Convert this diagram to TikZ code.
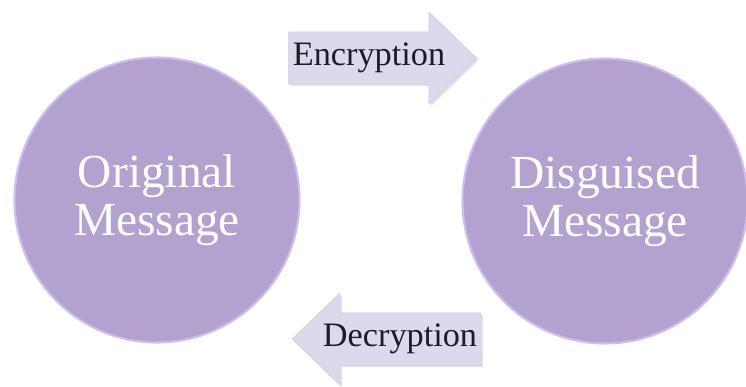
\documentclass[tikz,border=0pt]{standalone}
\usepackage{fontspec}
\setmainfont{Liberation Serif}
\usetikzlibrary{shapes.arrows, shadows}
\definecolor{lilac}{HTML}{B3A2D0}
\definecolor{lilacrim}{HTML}{CDBFEA}
\definecolor{paleLilac}{HTML}{DDD8EC}
\definecolor{inkdark}{HTML}{1E1A2A}

\tikzset{
  msgcircle/.style={circle, fill=lilac, draw=lilacrim, line width=1.2pt,
    minimum size=5.7cm, inner sep=0pt, align=center, text=white,
    font=\fontsize{27}{27.5}\selectfont},
  steparrow/.style={single arrow, fill=paleLilac, draw=paleLilac!85!gray,
    line width=0.3pt, single arrow head extend=0.4cm,
    single arrow tip angle=88, minimum height=3.76cm,
    text height=13pt, text depth=5pt, inner ysep=0.2cm, inner xsep=2pt,
    text=inkdark, font=\fontsize{19.5}{22}\selectfont,
    drop shadow={shadow xshift=1.2pt, shadow yshift=-1.2pt, fill=gray!45, opacity=0.5}}
}

\begin{document}
\begin{tikzpicture}[x=0.02cm, y=-0.02cm]
\useasboundingbox (0,0) rectangle (746,386);

% Messages
\node[msgcircle] (orig) at (157,200) {Original\\Message};
\node[msgcircle] (disg) at (605,201) {Disguised\\Message};

% Steps
\node[steparrow] (enc) at (369,58) {Encryption};
\node[steparrow, shape border rotate=180] (dec) at (400,339) {Decryption};

\end{tikzpicture}
\end{document}
